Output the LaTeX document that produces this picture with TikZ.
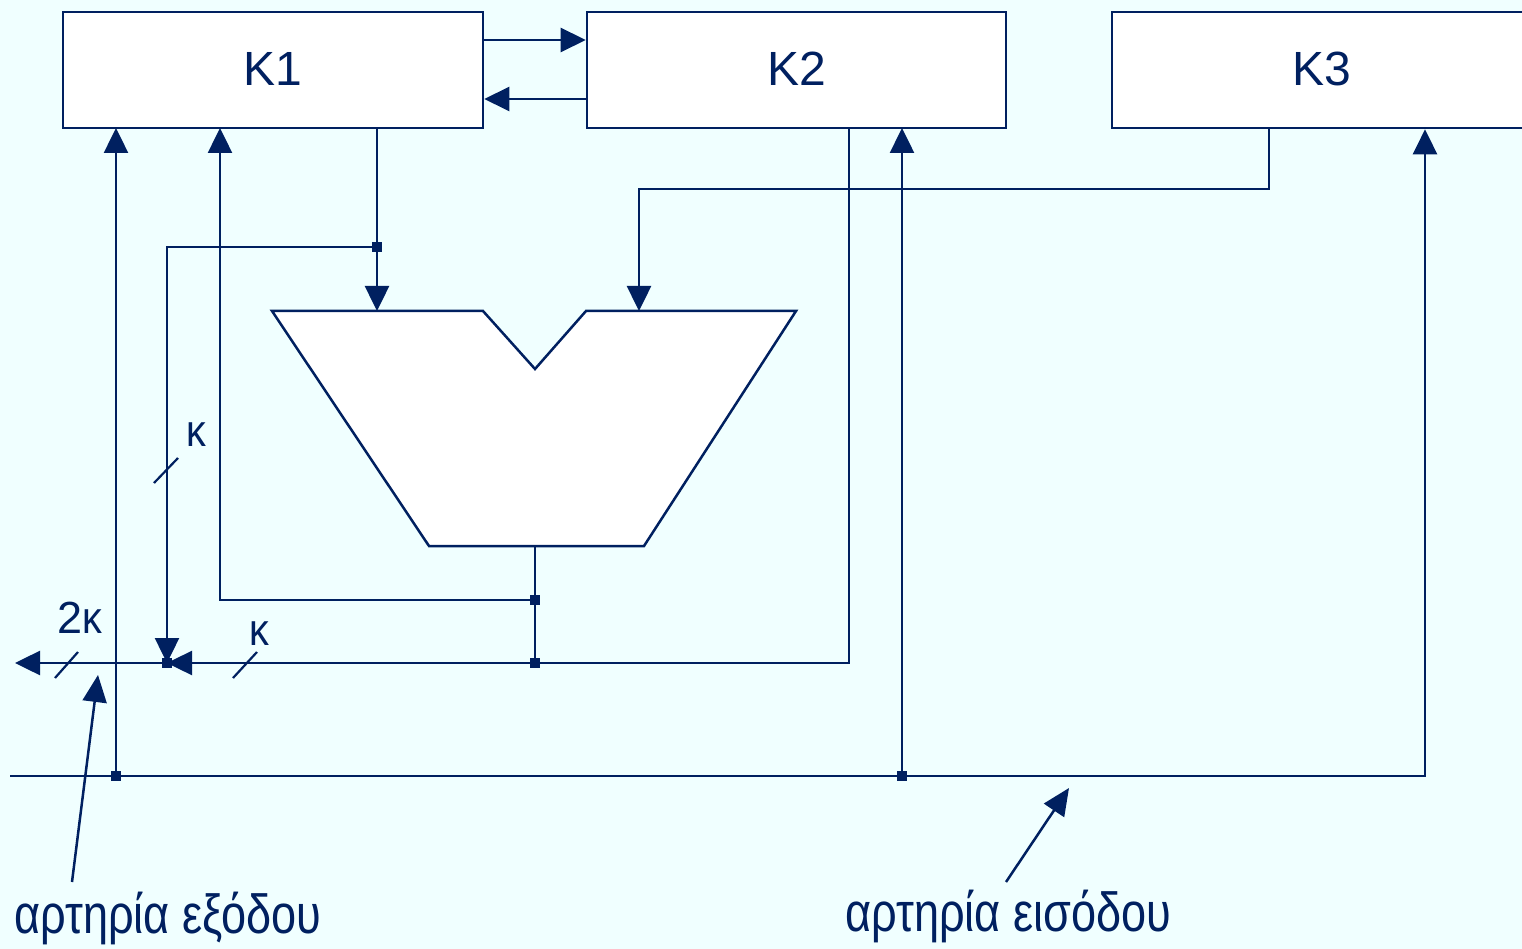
\documentclass[tikz,border=0pt]{standalone}
\usepackage{fontspec}
\setmainfont{Liberation Sans}
\newfontfamily\grfont[FakeStretch=0.82]{Liberation Sans}
\newfontfamily\kfont[FakeStretch=0.88]{Liberation Sans}
\usetikzlibrary{arrows.meta}
\definecolor{ink}{HTML}{002060}
\definecolor{bgc}{HTML}{F0FFFF}
\begin{document}
\begin{tikzpicture}[x=1pt,y=-1pt,
  box/.style={draw=ink, fill=white, line width=2.6pt, minimum width=420pt, minimum height=116pt,
              inner sep=0pt, text=ink, font=\fontsize{48}{50}\selectfont},
  wire/.style={draw=ink, line width=2.5pt},
  arr/.style={wire, -{Triangle[length=25pt,width=24pt]}},
  ann/.style={wire, -{Triangle[length=27pt,width=24pt]}},
  tick/.style={draw=ink, line width=2.2pt},
  dot/.style={shape=rectangle, fill=ink, minimum size=10pt, inner sep=0pt},
  lab/.style={text=ink, inner sep=0pt}]
\fill[bgc] (0,0) rectangle (1522,949);
\useasboundingbox (0,0) rectangle (1522,949);

% registers
\node[box] (K1) at (273,70) {\raisebox{3pt}{K1}};
\node[box, minimum width=419pt] (K2) at (796.5,70) {\raisebox{3pt}{K2}};
\node[box, minimum width=419pt] (K3) at (1321.5,70) {\raisebox{3pt}{K3}};

% ALU
\draw[wire, fill=white] (272,311) -- (483,311) -- (535,369) -- (586,311) -- (796,311)
  -- (644,546) -- (429,546) -- cycle;
\coordinate (aluA) at (377,311);
\coordinate (aluB) at (639,311);
\coordinate (aluO) at (535,546);

% coordinates
\coordinate (k1o) at (377,128);
\coordinate (k1i1) at (116,128);
\coordinate (k1i2) at (220,128);
\coordinate (k2o) at (849,128);
\coordinate (k2i) at (902,128);
\coordinate (k3o) at (1269,128);
\coordinate (j1) at (377,247);
\coordinate (j2) at (535,600);
\coordinate (j3) at (535,663);
\coordinate (jout) at (167,663);
\coordinate (outL) at (15,663);
\coordinate (busL) at (10,776);
\coordinate (busR) at (1425,776);
\coordinate (jb1) at (116,776);
\coordinate (jb2) at (902,776);
\coordinate (a1s) at (72,882);
\coordinate (a1t) at (98,675);
\coordinate (a2s) at (1006,882);
\coordinate (a2t) at (1069,788);

% K1 <-> K2
\draw[arr] (K1.east |- 0,40) -- (K2.west |- 0,40);
\draw[arr] (K2.west |- 0,99) -- (K1.east |- 0,99);

% K1 -> ALU, branch to output
\draw[arr] (k1o) -- (aluA);
\draw[arr] (j1) -| (jout);

% K3 -> ALU
\draw[arr] (k3o) -- (k3o |- 0,189) -| (aluB);

% ALU output
\draw[wire] (aluO) -- (j3);
\draw[arr] (j2) -| (k1i2);

% K2 -> output
\draw[arr] (k2o) |- (jout);
\draw[arr] (jout) -- (outL);

% input bus
\draw[arr] (busL) -- (busR) -- (busR |- K3.south);
\draw[arr] (jb1) -- (k1i1);
\draw[arr] (jb2) -- (k2i);

% junctions
\foreach \p in {j1,j2,j3,jout,jb1,jb2} \node[dot] at (\p) {};

% width ticks
\draw[tick] (55,678) -- (78,652);
\draw[tick] (233,678) -- (257,652);
\draw[tick] (154,483) -- (178,458);

% labels
\node[lab, anchor=base west] (l2k) at (57,633) {\fontsize{45}{48}\selectfont 2{\kfont κ}};
\node[lab, anchor=base west] (lk1) at (249,645) {\kfont\fontsize{45}{48}\selectfont κ};
\node[lab, anchor=base west] (lk2) at (186,446) {\kfont\fontsize{45}{48}\selectfont κ};

% annotations
\node[lab, anchor=base west] (tout) at (14,933) {\grfont\fontsize{55}{58}\selectfont αρτηρία εξόδου};
\node[lab, anchor=base west] (tin) at (845,931) {\grfont\fontsize{55}{58}\selectfont αρτηρία εισόδου};
\draw[ann] (a1s) -- (a1t);
\draw[ann] (a2s) -- (a2t);
\end{tikzpicture}
\end{document}
